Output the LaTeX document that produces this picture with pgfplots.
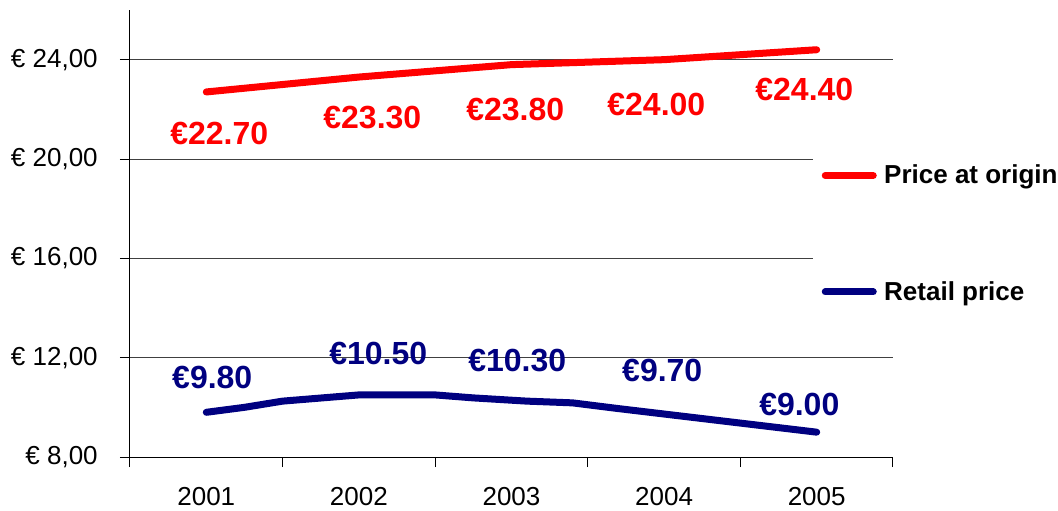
\documentclass[border=0pt]{standalone}
\usepackage{pgfplots}
\pgfplotsset{compat=1.18}
\usepackage{fontspec}
\setmainfont{Liberation Sans}
\definecolor{redline}{RGB}{255,0,0}
\definecolor{navyline}{RGB}{0,0,128}
\definecolor{gridgray}{RGB}{64,64,64}
\begin{document}
\begin{tikzpicture}
\begin{axis}[
  scale only axis, width=572.25pt, height=335.25pt,
  xmin=-0.5, xmax=4.5, ymin=8, ymax=26,
  clip=false,
  axis x line*=bottom, axis y line*=left,
  axis line style={line width=0.75pt, black, -},
  xtick={-0.5,0.5,1.5,2.5,3.5,4.5},
  xticklabels={,,,,,},
  extra x ticks={0,1,2,3,4},
  extra x tick labels={2001,2002,2003,2004,2005},
  extra x tick style={major tick length=0pt},
  ytick={8,12,16,20,24},
  yticklabels={{€ 8,00},{€ 12,00},{€ 16,00},{€ 20,00},{€ 24,00}},
  ymajorgrids, grid style={line width=0.75pt, gridgray},
  tick align=outside,
  major tick length=7.5pt,
  tick style={line width=0.75pt, black},
  ticklabel style={font=\fontsize{19.5}{22}\selectfont, inner sep=0pt},
  yticklabel style={anchor=east, xshift=-16.5pt},
  xticklabel style={anchor=north, yshift=-22.5pt},
  legend style={at={(0.8951,0.6834)}, anchor=north west, draw=none, fill=white,
    inner xsep=6.4pt, inner ysep=10pt, row sep=71.7pt, column sep=5.6pt,
    font=\fontsize{19.5}{22}\selectfont\bfseries, nodes={inner sep=0pt}},
  legend cell align=left,
  legend image code/.code={\draw[#1, line width=5.25pt, line cap=round] (0pt,0pt) -- (36pt,0pt);},
]
\addplot[redline, line width=5.25pt, line cap=round, line join=round]
  coordinates {(0,22.7)(1,23.3)(2,23.8)(3,24.0)(4,24.4)};
\addlegendentry{Price at origin}
\addplot[navyline, line width=5.25pt, line cap=round, line join=round]
  coordinates {(0,9.8)(0.25,10.0)(0.5,10.25)(1,10.5)(1.5,10.5)(1.75,10.38)(2.1,10.25)(2.4,10.18)(2.7,9.95)(4,9.0)};
\addlegendentry{Retail price}
\begin{scope}[every node/.style={font=\fontsize{24}{26}\selectfont\bfseries, inner sep=0pt}]
\node[text=redline] at (axis cs:0.085,21.02) {€22.70};
\node[text=redline] at (axis cs:1.088,21.67) {€23.30};
\node[text=redline] at (axis cs:2.025,21.99) {€23.80};
\node[text=redline] at (axis cs:2.949,22.19) {€24.00};
\node[text=redline] at (axis cs:3.919,22.80) {€24.40};
\node[text=navyline] at (axis cs:0.039,11.19) {€9.80};
\node[text=navyline] at (axis cs:1.127,12.15) {€10.50};
\node[text=navyline] at (axis cs:2.038,11.87) {€10.30};
\node[text=navyline] at (axis cs:2.988,11.47) {€9.70};
\node[text=navyline] at (axis cs:3.886,10.10) {€9.00};
\end{scope}
\end{axis}
\pgfresetboundingbox
\path (current axis.south west) ++(-97.5pt,-40.5pt) rectangle ++(793.5pt,383.25pt);
\end{tikzpicture}
\end{document}
